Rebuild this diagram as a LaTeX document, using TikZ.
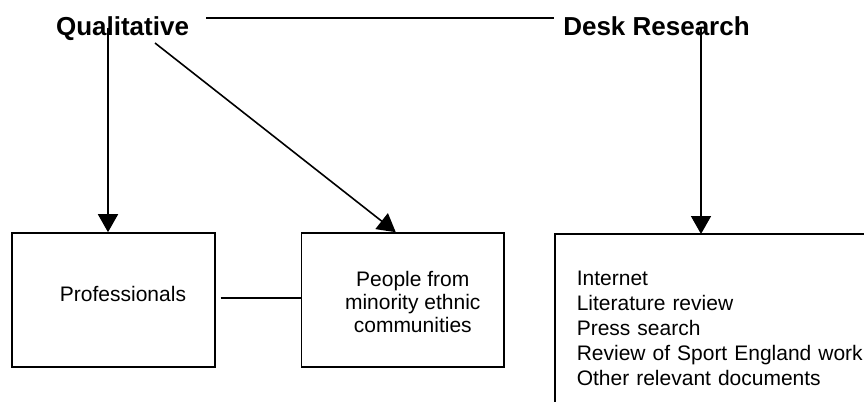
\documentclass[tikz,border=0pt]{standalone}
\usepackage{fontspec}
\setmainfont{Liberation Sans}
\usetikzlibrary{arrows.meta,positioning}
\tikzset{
  heading/.style={inner sep=0pt, anchor=base, font=\fontsize{19.5pt}{23pt}\selectfont\bfseries},
  box/.style={rectangle, draw, fill=white, minimum width=152pt, minimum height=100.5pt},
  boxtext/.style={align=center, font=\fontsize{15.75pt}{17.6pt}\selectfont},
  listbox/.style={rectangle, anchor=north west, text width=260pt, inner xsep=15.75pt,
    inner ysep=27pt, align=left, font=\fontsize{15.75pt}{18.75pt}\selectfont}
}

\begin{document}
\begin{tikzpicture}[x=0.75pt,y=-0.75pt,>={Triangle[width=15pt,length=13.5pt]},line width=1.2pt]
  \useasboundingbox (0,0) rectangle (864,401);
  \begin{scope}
    \clip (0,0) rectangle (864,401);
    \node[heading] (qual) at (122.5,35) {Qualitative};
    \node[heading] (desk) at (656.5,35) {Desk Research};
    \node[box, label={[boxtext, shift={(9.5,-5.6)}]center:Professionals}] (prof) at (113.5,300) {};
    \node[box, label={[boxtext, shift={(10,2)}]center:People from\\minority ethnic\\communities}] (people) [right=63.75pt of prof] {};
    \node[listbox] (sources) at (555,234) {Internet\\Literature review\\Press search\\Review of Sport England work\\Other relevant documents};
    % box runs off the page to the right and below
    \draw (sources.south west) |- (sources.north east);

    \coordinate (qa) at (108,28);
    \coordinate (qb) at (155,43);
    \coordinate (da) at (701,28);
    \coordinate (tl) at (206,18);

    \draw (tl) -- ([xshift=-6pt]tl -| desk.west);
    \draw[->] (qa) -- (qa |- prof.north);
    \draw[->] (qb) -- ([xshift=-5.25pt]people.north);
    \draw[->] (da) -- (da |- sources.north);
    \draw ([shift={(5,-2)}]prof.east) -- ([yshift=1.5pt]people.west);
  \end{scope}
\end{tikzpicture}
\end{document}
